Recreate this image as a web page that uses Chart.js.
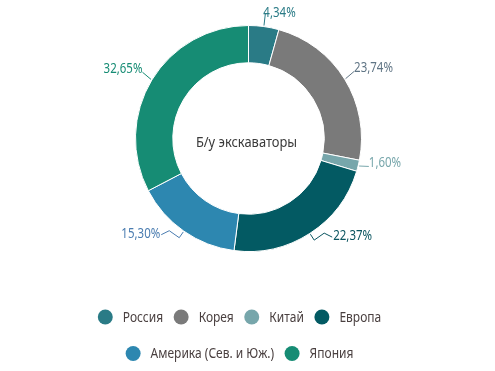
<!DOCTYPE html>
<html>
<head>
<meta charset="utf-8">
<script src="https://cdn.jsdelivr.net/npm/chart.js@4.4.1/dist/chart.umd.min.js"></script>
<style>
  html, body { margin: 0; padding: 0; background: #ffffff; }
  #wrap { width: 495px; height: 371px; position: relative; }
</style>
</head>
<body>
<div id="wrap"><canvas id="c" width="495" height="371"></canvas></div>
<script>
const categories = ['Россия', 'Корея', 'Китай', 'Европа', 'Америка (Сев. и Юж.)', 'Япония'];
const shares = [4.34, 23.74, 1.60, 22.37, 15.30, 32.65];
const sliceColors = ['#2a7b86', '#7a7a7a', '#77a6ab', '#035a63', '#2d87b0', '#168c74'];
const labelColors = ['#2a7b86', '#607585', '#77a6ab', '#0b5560', '#4a7cb0', '#168c74'];
const centerTitle = 'Б/у экскаваторы';
const legendRows = [[0, 1, 2, 3], [4, 5]];

const FONT = "'Noto Sans', 'Open Sans', sans-serif";

function fmt(v) { return v.toFixed(2).replace('.', ',') + '%'; }

// draw real text with a horizontal condense factor (narrow face look)
function narrowText(ctx, text, x, y, align, sx) {
  const w = ctx.measureText(text).width * sx;
  let left = x;
  if (align === 'right') left = x - w;
  else if (align === 'center') left = x - w / 2;
  ctx.save();
  ctx.translate(left, y);
  ctx.scale(sx, 1);
  ctx.textAlign = 'left';
  ctx.fillText(text, 0, 0);
  ctx.restore();
  return w;
}

const labelPlugin = {
  id: 'sliceLabels',
  afterDatasetsDraw(chart) {
    const ctx = chart.ctx;
    const meta = chart.getDatasetMeta(0);
    ctx.save();
    ctx.font = '14px ' + FONT;
    ctx.lineWidth = 1;
    meta.data.forEach((arc, i) => {
      const p = arc.getProps(['x', 'y', 'startAngle', 'endAngle', 'outerRadius'], true);
      const mid = (p.startAngle + p.endAngle) / 2;
      const dx = Math.cos(mid), dy = Math.sin(mid);
      const r = p.outerRadius;
      const x0 = p.x + dx * (r + 1), y0 = p.y + dy * (r + 1);
      const right = dx >= 0;
      const sgn = right ? 1 : -1;
      ctx.strokeStyle = labelColors[i];
      ctx.beginPath();
      ctx.moveTo(x0, y0);
      let tx, ty;
      if (dy > 0.5) {
        // lower labels: kinked leader
        const xa = p.x + dx * (r + 8), ya = p.y + dy * (r + 8);
        const xb = xa + sgn * 10, yb = ya - 7;
        const xc = xb + sgn * 8, yc = yb + 4;
        ctx.lineTo(xa, ya);
        ctx.lineTo(xb, yb);
        ctx.lineTo(xc, yc);
        tx = xc + sgn * 1; ty = yc - 1;
      } else {
        const x1 = p.x + dx * (r + 11), y1 = p.y + dy * (r + 11) - 2;
        ctx.lineTo(x1, y1);
        tx = x1; ty = y1 - 3;
        if (dy < -0.95) { tx = x1 - 2; ty = y1 - 1; }
      }
      ctx.stroke();
      ctx.fillStyle = labelColors[i];
      ctx.textBaseline = 'middle';
      narrowText(ctx, fmt(shares[i]), tx, ty, right ? 'left' : 'right', 0.82);
    });
    // centre title
    const a = meta.data[0];
    ctx.fillStyle = '#3a3a3a';
    ctx.font = '15px ' + FONT;
    ctx.textBaseline = 'alphabetic';
    narrowText(ctx, centerTitle, a.x - 2, a.y + 8, 'center', 0.86);
    ctx.restore();
  }
};

const legendPlugin = {
  id: 'bottomLegend',
  afterDraw(chart) {
    const ctx = chart.ctx;
    const W = chart.width;
    const rowY = [317, 353.5];
    const R = 7.5, gapText = 10, gapItem = 10.5, SX = 0.8;
    ctx.save();
    ctx.font = '15px ' + FONT;
    ctx.textBaseline = 'middle';
    const labels = chart.data.labels;
    const colors = chart.data.datasets[0].backgroundColor;
    legendRows.forEach((row, ri) => {
      const widths = row.map(i => ctx.measureText(labels[i]).width * SX);
      let total = 16;
      widths.forEach((w, k) => { total += 2 * R + gapText + w + (k ? gapItem : 0); });
      let x = (W - total) / 2;
      row.forEach((i, k) => {
        const cx = x + R;
        ctx.fillStyle = colors[i];
        ctx.beginPath();
        ctx.arc(cx, rowY[ri], R, 0, Math.PI * 2);
        ctx.fill();
        ctx.fillStyle = '#4a4040';
        narrowText(ctx, labels[i], x + 2 * R + gapText, rowY[ri] + 0.5, 'left', SX);
        x += 2 * R + gapText + widths[k] + gapItem;
      });
    });
    ctx.restore();
  }
};

new Chart(document.getElementById('c'), {
  type: 'doughnut',
  data: {
    labels: categories,
    datasets: [{
      data: shares,
      backgroundColor: sliceColors,
      borderColor: '#ffffff',
      borderWidth: 1,
      hoverOffset: 0
    }]
  },
  options: {
    responsive: false,
    animation: false,
    cutout: '67%',
    layout: { padding: { top: 25, bottom: 119, left: 2, right: 0 } },
    plugins: {
      legend: { display: false },
      tooltip: { enabled: false }
    }
  },
  plugins: [labelPlugin, legendPlugin]
});
</script>
</body>
</html>
